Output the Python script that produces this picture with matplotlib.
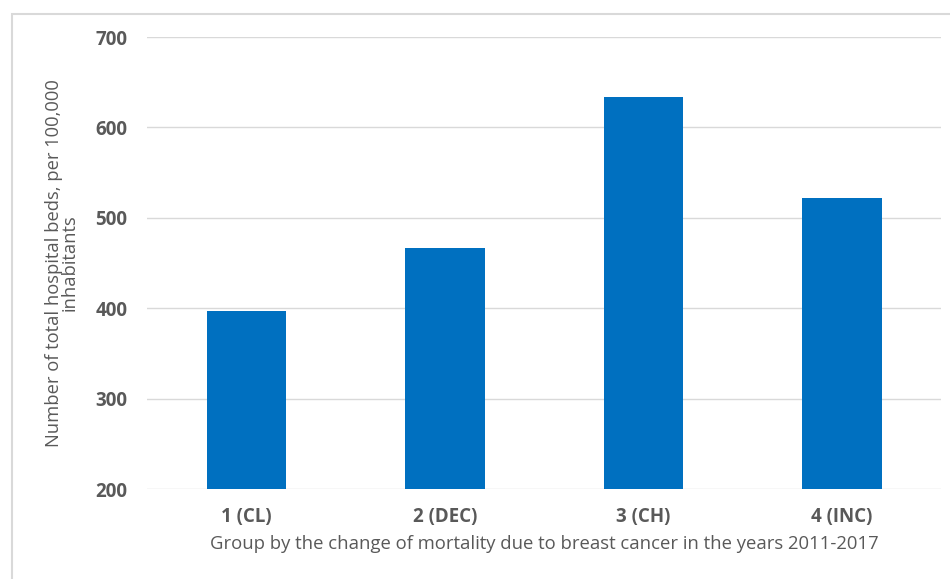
import matplotlib
matplotlib.use("Agg")
import matplotlib.pyplot as plt
from matplotlib.patches import Rectangle

groups = ["1 (CL)", "2 (DEC)", "3 (CH)", "4 (INC)"]
beds = [397, 467, 634, 522]
yticks = [200, 300, 400, 500, 600, 700]

plt.rcParams["font.family"] = ["Open Sans", "DejaVu Sans"]
TXT = "#595959"

fig = plt.figure(figsize=(9.5, 5.79), dpi=100)
ax = fig.add_axes([0.1547, 0.1554, 0.836, 0.7806])

x = range(len(groups))
ax.bar(x, beds, width=0.40, color="#0070C0", zorder=3)
ax.set_xlim(-0.5, len(groups) - 0.5)
ax.set_ylim(200, 700)
ax.set_yticks(yticks)
ax.set_xticks(list(x))
ax.set_xticklabels(groups, fontsize=13.5, fontweight="bold", color=TXT)
ax.set_yticklabels([str(t) for t in yticks], fontsize=13.5, fontweight="bold", color=TXT)
ax.tick_params(length=0)
ax.tick_params(axis="y", pad=14)
ax.tick_params(axis="x", pad=13)
ax.grid(axis="y", color="#d9d9d9", linewidth=1, zorder=0)
for s in ax.spines.values():
    s.set_visible(False)

ax.set_xlabel("Group by the change of mortality due to breast cancer in the years 2011-2017",
              fontsize=13.3, color=TXT, labelpad=6)
ax.set_ylabel("Number of total hospital beds, per 100,000\ninhabitants",
              fontsize=13.2, color=TXT, labelpad=12, linespacing=0.82, multialignment="center")

# light frame around the chart area
fig.patches.append(Rectangle((12 / 950, -0.01), 1.0, 1 - 14 / 579 + 0.01,
                             transform=fig.transFigure, fill=False,
                             edgecolor="#d9d9d9", linewidth=1.5))

fig.savefig("out.png", dpi=100)
